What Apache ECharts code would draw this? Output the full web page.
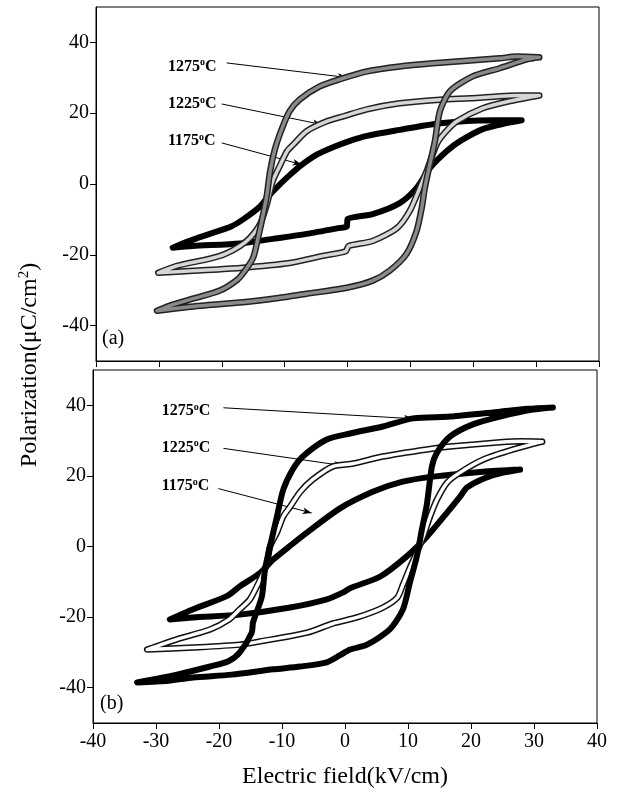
<!DOCTYPE html>
<html>
<head>
<meta charset="utf-8">
<script src="https://cdn.jsdelivr.net/npm/echarts@6/dist/echarts.min.js"></script>
<style>html,body{margin:0;padding:0;background:#fff}#c{width:618px;height:792px}</style>
</head>
<body>
<div id="c"></div>
<script>
// Temperature labels
var temps = ['1275', '1225', '1175'];
var xTicks = [-40, -30, -20, -10, 0, 10, 20, 30, 40];
var yTicks = [-40, -20, 0, 20, 40];

// Panel (a): hysteresis loops [E (kV/cm), P (uC/cm2)]
var a1275 = [[30.5,35.8],[27,36],[24.2,35.5],[19,34.8],[13.6,34.1],[8.3,33.2],[3.1,31.8],[-1.2,29.6],[-4.4,27.6],[-7.6,23.9],[-9.2,20.6],[-10.4,15.8],[-11.5,10.1],[-12.3,3.7],[-12.8,-2.8],[-13.4,-8.5],[-14.2,-15.0],[-15.0,-20.8],[-16.3,-24.5],[-17.5,-27.0],[-20.3,-30.1],[-24.6,-32.4],[-28,-34.2],[-30.3,-35.8],
  [-24.5,-34.6],[-17.1,-33.5],[-11,-32.2],[-6.5,-31.0],[-0.1,-29.3],[4.0,-27.3],[6.7,-24.5],[9.4,-19.7],[11.0,-13.2],[11.8,-6.8],[12.3,-1.1],[13.1,5.6],[13.9,12.1],[14.7,20.6],[16.3,26.2],[19.9,30.4],[24.2,32.7],[28.5,35.2],[30.5,35.8]];
var a1225 = [[30.5,25.0],[27,25.0],[24.2,24.8],[19.5,24.2],[15.2,23.9],[8.3,22.8],[3.1,21.1],[-0.5,19.2],[-3.3,17.7],[-6.5,14.9],[-8.7,11],[-9.6,9.3],[-10.8,5],[-11.9,0.8],[-12.8,-5.6],[-13.9,-11.3],[-15.5,-15.2],[-17.1,-17.5],[-19.5,-19.8],[-21.9,-21.1],[-27.1,-23.1],[-30.1,-25.1],
  [-24.6,-24.5],[-17.1,-23.7],[-9.2,-22.3],[-3.9,-20.3],[-0.3,-19.0],[0.2,-17.5],[4.0,-16.1],[7.9,-12.4],[9.9,-7.6],[11.5,-1.1],[12.6,3.7],[14.2,11.3],[15.5,14.5],[17.4,17.7],[21.5,21.4],[25.8,23.4],[30.5,25.0]];
var a1175 = [[27.7,18.0],[23,18.0],[19.0,17.8],[13.6,16.9],[8.3,15.3],[3.1,13.6],[0.4,12.2],[-2.3,10.4],[-4.9,8.3],[-7.6,5.0],[-9.2,2.5],[-10.7,0],[-12.8,-3.9],[-14,-6.5],[-16.6,-10.0],[-18.5,-12],[-21.9,-14.1],[-25,-16],[-27.8,-18.0],
  [-24.6,-17.5],[-17.1,-16.8],[-11.9,-15.5],[-6.5,-14.1],[-1.2,-12.4],[-0.1,-12.0],[0.0,-9.9],[4.0,-8.5],[8.3,-5.4],[11.0,-1.1],[13.1,4.5],[15.8,9.3],[17.9,12.1],[21.5,15.5],[25.3,17.2],[27.7,18.0]];

// Panel (b)
var b1275 = [[33.0,39.4],[29,39],[24.6,38.2],[16.7,36.8],[10.8,36.3],[6.0,34.0],[0.8,32.0],[-2.9,30.3],[-6.7,25.5],[-8.3,21.8],[-9.8,16.1],[-10.8,8.5],[-11.9,0],[-12.7,-6.5],[-13.2,-14.2],[-14.6,-21.5],[-14.8,-24.4],[-16.7,-30.0],[-18.5,-32.5],[-21.4,-34.0],[-26.7,-36.3],[-30,-37.5],[-33.0,-38.5],
  [-28,-38],[-24.1,-37.1],[-18,-36.3],[-11.4,-34.8],[-7.1,-34.0],[-2.9,-32.8],[-0.8,-30.8],[0.8,-29.2],[3.5,-27.8],[7.1,-23.5],[9.2,-17.8],[10.3,-10.2],[11.4,-2.8],[12.2,4.8],[13.0,12],[13.8,22.7],[14.6,26.6],[16.7,31.2],[20.3,34.6],[24.6,36.8],[29.8,38.8],[33.0,39.4]];
var b1225 = [[31.3,29.7],[28,29.8],[24.6,29.5],[16.7,28.3],[13.0,27.5],[6.0,25.5],[1.3,23.5],[-1.9,22.7],[-5.1,19.0],[-7.1,15.5],[-8.7,11.3],[-9.8,8.5],[-10.8,4.0],[-11.9,0],[-12.4,-5],[-13.5,-9.5],[-15.1,-15.0],[-16.7,-17.8],[-18.5,-20.8],[-21.4,-23.5],[-26.7,-26.3],[-31.4,-29.2],
  [-24.1,-28.6],[-16.7,-27.8],[-13.5,-26.9],[-6.0,-24.4],[-1.9,-21.8],[1.9,-20.1],[6.0,-17.3],[8.3,-14.5],[9.2,-10.8],[10.3,-6.0],[11.4,-1.7],[12.4,2.8],[13.5,8.5],[14.6,13.3],[16.2,18.1],[18.3,21.0],[21.9,24.6],[26.7,27.5],[31.3,29.7]];
var b1175 = [[27.8,21.8],[21.9,21.2],[14.0,19.8],[9.0,18.3],[4.4,15.5],[-0.8,10.8],[-6.0,4.0],[-8.5,0.5],[-11.4,-3.7],[-13.5,-7.5],[-16.7,-11.3],[-18.7,-14.0],[-24.1,-17.8],[-27.8,-20.7],
  [-24.1,-20.1],[-16.7,-19.3],[-8.7,-17.3],[-2.9,-15.0],[-0.3,-13.0],[0.8,-11.8],[5.6,-8.5],[9.8,-2.8],[13.0,2.8],[16.2,9.6],[18.3,14.2],[19.4,16.8],[23.5,20.2],[27.8,21.8]];

var FONT = 'Liberation Serif';
var chart = echarts.init(document.getElementById('c'), null, {renderer: 'canvas'});

function xAx(grid, labels) {
  return {
    gridIndex: grid, type: 'value', min: -40, max: 40, interval: 10,
    axisLine: {onZero: false, lineStyle: {color: '#000', width: 1}},
    axisTick: {show: true, inside: false, length: 6, lineStyle: {color: '#000'}},
    axisLabel: {show: labels, color: '#000', fontFamily: FONT, fontSize: 20, margin: 9},
    splitLine: {show: false},
    name: labels ? 'Electric field(kV/cm)' : '',
    nameLocation: 'middle', nameGap: 42,
    nameTextStyle: {color: '#000', fontFamily: FONT, fontSize: 24}
  };
}
function yAx(grid) {
  return {
    gridIndex: grid, type: 'value', min: -50, max: 50, interval: 10,
    axisLine: {onZero: false, lineStyle: {color: '#000', width: 1}},
    axisTick: {show: true, inside: false, length: 6, customValues: yTicks, lineStyle: {color: '#000'}},
    axisLabel: {color: '#000', fontFamily: FONT, fontSize: 20, margin: 7, customValues: yTicks},
    splitLine: {show: false}
  };
}

function band(data, gi, outer, inner, wOut, wIn, z) {
  var s = [{
    type: 'line', xAxisIndex: gi, yAxisIndex: gi, data: data, smooth: 0.25,
    showSymbol: false, symbol: 'none', silent: true, z: z,
    lineStyle: {color: outer, width: wOut, cap: 'round', join: 'round'}
  }];
  if (inner) {
    s.push({
      type: 'line', xAxisIndex: gi, yAxisIndex: gi, data: data, smooth: 0.25,
      showSymbol: false, symbol: 'none', silent: true, z: z + 1,
      lineStyle: {color: inner, width: wIn, cap: 'round', join: 'round'}
    });
  }
  return s;
}

function label(t) {
  return '{n|' + t + '}{s|o}{n|C}';
}
var rich = {
  n: {fontFamily: FONT, fontWeight: 'bold', fontSize: 16, color: '#000'},
  s: {fontFamily: FONT, fontWeight: 'bold', fontSize: 10, color: '#000', padding: [0, 0, 8, 0]}
};

function annot(gi, texts, lines) {
  return {
    type: 'line', xAxisIndex: gi, yAxisIndex: gi, data: [], silent: true, z: 20,
    markPoint: {
      symbol: 'circle', symbolSize: 0, silent: true,
      label: {show: true, position: 'right', distance: 0, formatter: function (p) { return label(p.name); }, rich: rich},
      data: texts.map(function (t) { return {name: t[0], coord: t[1]}; })
    },
    markLine: {
      silent: true, symbol: ['none', 'arrow'], symbolSize: [5, 9],
      lineStyle: {color: '#000', width: 1, type: 'solid'},
      label: {show: false},
      data: lines.map(function (l) { return [{coord: l[0]}, {coord: l[1]}]; })
    }
  };
}

var series = [];
series = series.concat(band(a1175, 0, '#000', null, 6, 0, 3));
series = series.concat(band(a1225, 0, '#222', '#d6d6d6', 6.5, 3.5, 5));
series = series.concat(band(a1275, 0, '#222', '#8a8a8a', 6.5, 3.5, 7));
series = series.concat(band(b1175, 1, '#000', null, 6, 0, 3));
series = series.concat(band(b1225, 1, '#111', '#ffffff', 6.5, 3.5, 5));
series = series.concat(band(b1275, 1, '#000', null, 6, 0, 7));

series.push(annot(0,
  [[temps[0], [-28.55, 33.2]], [temps[1], [-28.55, 22.5]], [temps[2], [-28.55, 12.1]]],
  [[[-19.2, 34.2], [-0.14, 30.1]], [[-20.0, 22.6], [-4.1, 16.8]], [[-20.0, 11.6], [-7.3, 5.5]]]));
series.push(annot(1,
  [[temps[0], [-29.1, 38.3]], [temps[1], [-29.1, 28.0]], [temps[2], [-29.1, 17.1]]],
  [[[-19.3, 39.3], [10.8, 36.2]], [[-19.3, 27.8], [-0.27, 22.9]], [[-20.1, 16.4], [-5.3, 9.5]]]));

chart.setOption({
  backgroundColor: '#fff',
  animation: false,
  grid: [
    {left: 96, top: 7, width: 503, height: 354, show: true, borderColor: '#000', borderWidth: 1, backgroundColor: 'transparent'},
    {left: 93, top: 370, width: 504, height: 353, show: true, borderColor: '#000', borderWidth: 1, backgroundColor: 'transparent'}
  ],
  xAxis: [xAx(0, false), xAx(1, true)],
  yAxis: [yAx(0), yAx(1)],
  series: series,
  graphic: [
    {type: 'text', x: 102, y: 339, style: {text: '(a)', font: '20px "Liberation Serif"', fill: '#000', textVerticalAlign: 'middle'}},
    {type: 'text', x: 100, y: 704, style: {text: '(b)', font: '20px "Liberation Serif"', fill: '#000', textVerticalAlign: 'middle'}},
    {type: 'text', x: 30, y: 365, rotation: Math.PI / 2,
      style: {text: '{a|Polarization(μC/cm}{s|2}{a|)}', textAlign: 'center', textVerticalAlign: 'middle',
        rich: {a: {fontFamily: FONT, fontSize: 24, fill: '#000', color: '#000'}, s: {fontFamily: FONT, fontSize: 15, color: '#000', fill: '#000', padding: [0, 0, 11, 0]}}}}
  ]
});
</script>
</body>
</html>
